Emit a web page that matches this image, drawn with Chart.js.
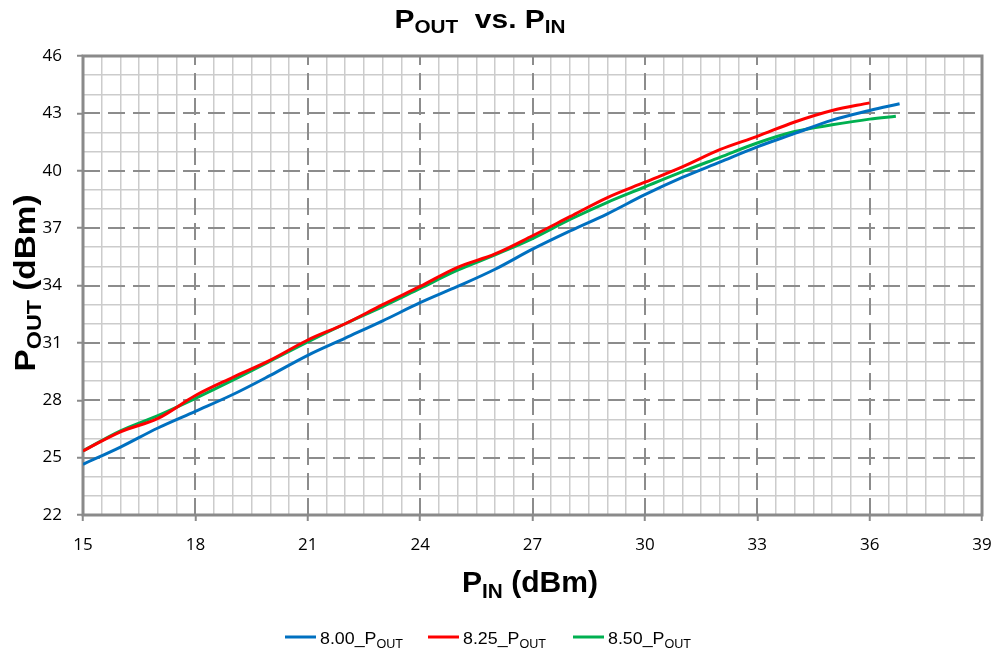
<!DOCTYPE html>
<html>
<head>
<meta charset="utf-8">
<script src="https://cdn.jsdelivr.net/npm/chart.js@4"></script>
<style>
  html, body { margin: 0; padding: 0; background: #fff; }
  #wrap { width: 995px; height: 656px; position: relative; }
</style>
</head>
<body>
<div id="wrap"><canvas id="myChart" width="995" height="656"></canvas></div>
<script>
// P_IN sweep (dBm)
var pin825 = [15, 16, 17, 18, 19, 20, 21, 22, 23, 24, 25, 26, 27, 28, 29, 30, 31, 32, 33, 34, 35, 36];
var pin800 = [15, 16, 17, 18, 19, 20, 21, 22, 23, 24, 25, 26, 27, 28, 29, 30, 31, 32, 33, 34, 35, 36, 36.8];
var pin850 = [15, 16, 17, 18, 19, 20, 21, 22, 23, 24, 25, 26, 27, 28, 29, 30, 31, 32, 33, 34, 35, 36, 36.7];

// P_OUT (dBm)
var pout800 = [24.65, 25.55, 26.55, 27.42, 28.3, 29.3, 30.35, 31.25, 32.15, 33.1, 33.95, 34.85,
               35.9, 36.85, 37.75, 38.75, 39.65, 40.45, 41.25, 41.95, 42.65, 43.15, 43.5];
var pout825 = [25.35, 26.35, 27.05, 28.25, 29.2, 30.1, 31.15, 32.0, 33.0, 33.95, 34.95, 35.65,
               36.6, 37.6, 38.6, 39.4, 40.2, 41.1, 41.8, 42.55, 43.15, 43.55];
var pout850 = [25.35, 26.4, 27.2, 28.1, 29.05, 30.05, 31.05, 32.0, 32.9, 33.85, 34.8, 35.6,
               36.45, 37.45, 38.35, 39.15, 39.95, 40.7, 41.45, 42.05, 42.4, 42.7, 42.85];

var seriesNames = ['8.00', '8.25', '8.50'];
var seriesColors = ['#0070C0', '#FF0000', '#00B050'];

var xMin = 15, xMax = 39, xMajor = 3, xMinor = 0.5;
var yMin = 22, yMax = 46, yMajor = 3, yMinor = 1;

function pts(xs, ys) {
    return xs.map(function (x, i) { return { x: x, y: ys[i] }; });
}
function steps(a, b, s) {
    var out = [];
    for (var v = a; v <= b + 1e-9; v += s) out.push({ value: Math.round(v * 100) / 100 });
    return out;
}
function isMajor(v, base, step) {
    return Math.abs(((v - base) / step) - Math.round((v - base) / step)) < 1e-6;
}

// text with subscripts, optionally squeezed/stretched to a given width
function richText(ctx, parts, x, y, align, width) {
    var total = 0;
    parts.forEach(function (p) {
        ctx.font = p[3] + ' ' + p[1] + 'px "Liberation Sans", Arial, sans-serif';
        total += ctx.measureText(p[0]).width;
    });
    var sx = width ? width / total : 1;
    ctx.save();
    ctx.translate(x, y);
    ctx.scale(sx, 1);
    var cx = align === 'center' ? -total / 2 : 0;
    ctx.fillStyle = '#000';
    ctx.textBaseline = 'alphabetic';
    ctx.textAlign = 'left';
    parts.forEach(function (p) {
        ctx.font = p[3] + ' ' + p[1] + 'px "Liberation Sans", Arial, sans-serif';
        ctx.fillText(p[0], cx, p[2]);
        cx += ctx.measureText(p[0]).width;
    });
    ctx.restore();
}

var gridPlugin = {
    id: 'gridPlugin',
    beforeDatasetsDraw: function (chart) {
        var ctx = chart.ctx, a = chart.chartArea;
        var xs = chart.scales.x, ys = chart.scales.y;
        ctx.save();
        ctx.strokeStyle = '#8c8c8c';
        ctx.lineWidth = 2;
        ctx.setLineDash([17, 8]);
        for (var v = xMin + xMajor; v < xMax; v += xMajor) {
            var px = Math.round(xs.getPixelForValue(v));
            ctx.beginPath(); ctx.moveTo(px, a.bottom); ctx.lineTo(px, a.top); ctx.stroke();
        }
        for (var w = yMin + yMajor; w < yMax; w += yMajor) {
            var py = Math.round(ys.getPixelForValue(w));
            ctx.beginPath(); ctx.moveTo(a.left, py); ctx.lineTo(a.right, py); ctx.stroke();
        }
        ctx.setLineDash([]);
        ctx.strokeStyle = '#8a8a8a';
        ctx.lineWidth = 3;
        ctx.strokeRect(a.left, a.top, a.right - a.left, a.bottom - a.top);
        ctx.restore();
    },
    afterDraw: function (chart) {
        var ctx = chart.ctx;
        // title
        richText(ctx, [['P', 26, 0, 'bold'], ['OUT', 18, 5, 'bold'], ['  vs. ', 26, 0, 'bold'],
                       ['P', 26, 0, 'bold'], ['IN', 18, 5, 'bold']], 480, 28, 'center', 171);
        // x title
        richText(ctx, [['P', 29, 0, 'bold'], ['IN', 20, 6, 'bold'], [' (dBm)', 29, 0, 'bold']],
                 462, 592, 'left', 136);
        // y title
        ctx.save();
        ctx.translate(35, 283);
        ctx.rotate(-Math.PI / 2);
        richText(ctx, [['P', 30, 0, 'bold'], ['OUT', 21, 6, 'bold'], [' (dBm)', 30, 0, 'bold']],
                 0, 0, 'center', 177);
        ctx.restore();
        // legend
        var lx = [285, 428, 573];
        for (var i = 0; i < 3; i++) {
            ctx.save();
            ctx.strokeStyle = seriesColors[i];
            ctx.lineWidth = 3;
            ctx.beginPath(); ctx.moveTo(lx[i], 637); ctx.lineTo(lx[i] + 31, 637); ctx.stroke();
            ctx.restore();
            richText(ctx, [[seriesNames[i] + '_P', 17, 0, 'normal'], ['OUT', 12, 4, 'normal']],
                     lx[i] + 35, 644, 'left', 83);
        }
    }
};

var ctx = document.getElementById('myChart').getContext('2d');
var myLineChart = new Chart(ctx, {
    type: 'line',
    data: {
        datasets: [0, 1, 2].map(function (i) {
            return {
                label: seriesNames[i] + '_POUT',
                data: [pts(pin800, pout800), pts(pin825, pout825), pts(pin850, pout850)][i],
                borderColor: seriesColors[i],
                backgroundColor: 'transparent',
                borderWidth: 3,
                pointRadius: 0,
                tension: 0.35,
                fill: false
            };
        })
    },
    plugins: [gridPlugin],
    options: {
        responsive: false,
        animation: false,
        layout: { padding: { top: 56, right: 13, bottom: 0, left: 0 } },
        plugins: {
            legend: { display: false },
            title: { display: false },
            tooltip: { enabled: false }
        },
        scales: {
            x: {
                type: 'linear',
                min: xMin,
                max: xMax,
                afterBuildTicks: function (s) { s.ticks = steps(xMin, xMax, xMinor); },
                afterFit: function (s) { s.height = 141; s.paddingLeft = 0; s.paddingRight = 0; },
                border: { display: false },
                grid: {
                    color: function (c) { return isMajor(c.tick.value, xMin, xMajor) ? 'transparent' : '#cccccc'; },
                    lineWidth: 1.5,
                    tickColor: function (c) { return isMajor(c.tick.value, xMin, xMajor) ? '#8a8a8a' : 'transparent'; },
                    tickLength: 6,
                    tickWidth: 2
                },
                ticks: {
                    autoSkip: false,
                    maxRotation: 0,
                    padding: 14,
                    color: '#000',
                    font: { family: '"Open Sans", sans-serif', size: 17 },
                    callback: function (v) { return isMajor(v, xMin, xMajor) ? String(v) : ''; }
                }
            },
            y: {
                type: 'linear',
                min: yMin,
                max: yMax,
                afterBuildTicks: function (s) { s.ticks = steps(yMin, yMax, yMinor); },
                afterFit: function (s) { s.width = 83; s.paddingTop = 0; s.paddingBottom = 0; },
                border: { display: false },
                grid: {
                    color: function (c) { return isMajor(c.tick.value, yMin, yMajor) ? 'transparent' : '#cccccc'; },
                    lineWidth: 1.5,
                    tickColor: function (c) { return isMajor(c.tick.value, yMin, yMajor) ? '#8a8a8a' : 'transparent'; },
                    tickLength: 6,
                    tickWidth: 2
                },
                ticks: {
                    autoSkip: false,
                    padding: 15,
                    color: '#000',
                    font: { family: '"Open Sans", sans-serif', size: 17 },
                    callback: function (v) { return isMajor(v, yMin, yMajor) ? String(v) : ''; }
                }
            }
        }
    }
});
</script>
</body>
</html>
